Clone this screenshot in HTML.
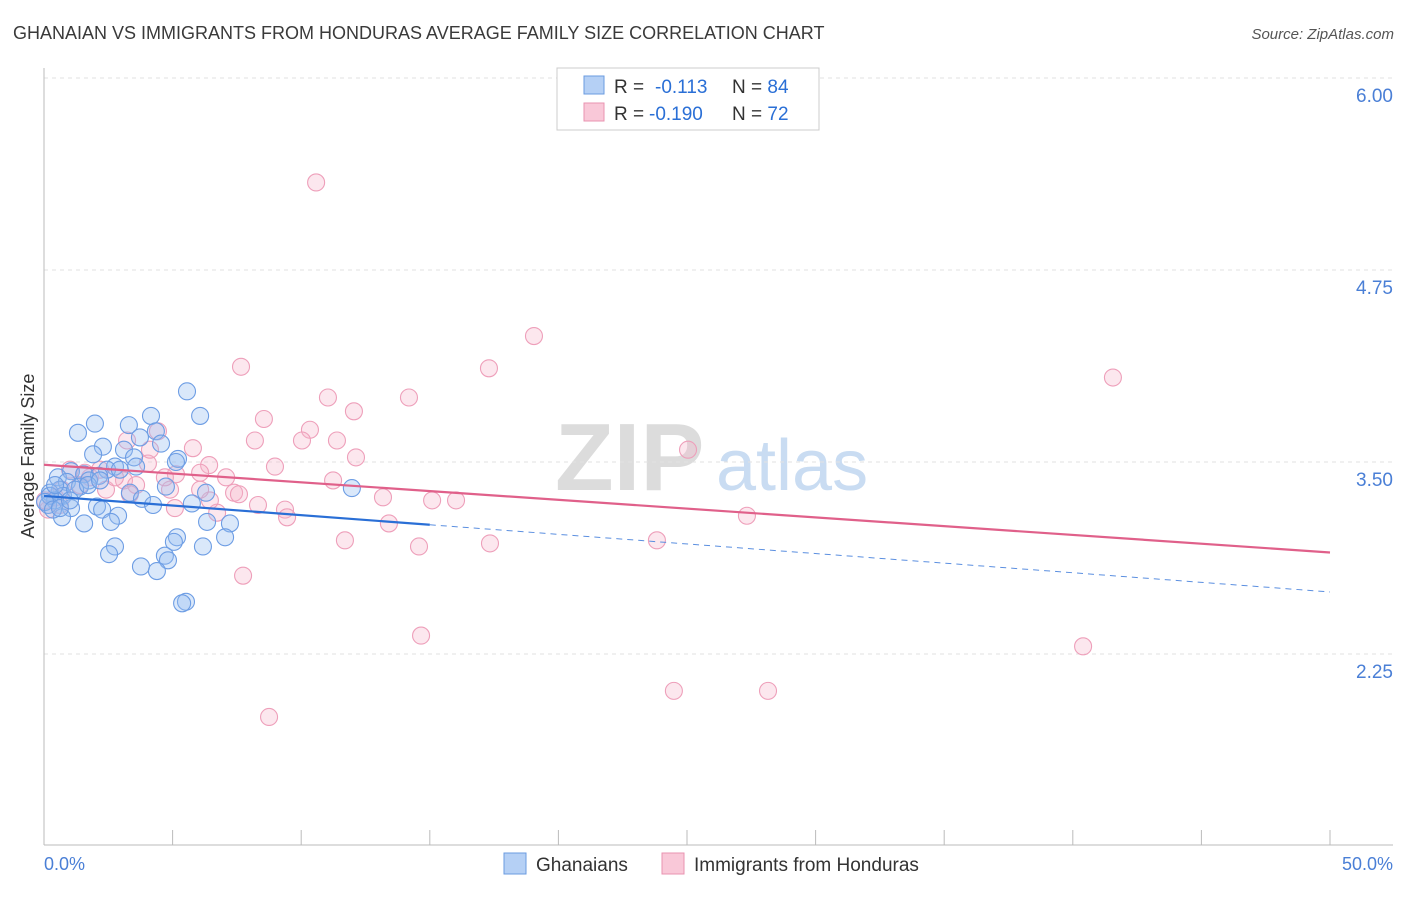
<!DOCTYPE html>
<html><head><meta charset="utf-8"><style>
body{margin:0;background:#fff;font-family:"Liberation Sans",sans-serif;}
svg text{font-family:"Liberation Sans",sans-serif;}
</style></head><body>
<svg id="chart" width="1406" height="892" xmlns="http://www.w3.org/2000/svg">
<text x="13" y="39" font-size="18" fill="#3a3a3a">GHANAIAN VS IMMIGRANTS FROM HONDURAS AVERAGE FAMILY SIZE CORRELATION CHART</text>
<text x="1394" y="39" font-size="15" fill="#555" font-style="italic" text-anchor="end">Source: ZipAtlas.com</text>
<g>
<text x="555" y="490" font-size="96" fill="#dcdcdc" font-family="Liberation Serif,serif" font-weight="bold">ZIP</text>
<text x="716" y="490" font-size="72" fill="#c9dcf2">atlas</text>
</g>
<g id="grid"></g>
<line x1="44" y1="68" x2="44" y2="845" stroke="#bbb"/>
<line x1="44" y1="845" x2="1393" y2="845" stroke="#bbb"/>
<g id="xticks"></g>
<g id="pts"></g>
<g id="lines"></g>
<text transform="translate(34,456) rotate(-90)" font-size="18" fill="#333" text-anchor="middle">Average Family Size</text>
<text x="44" y="870" font-size="18" fill="#4a7fd6">0.0%</text>
<text x="1393" y="870" font-size="18" fill="#4a7fd6" text-anchor="end">50.0%</text>
<g>
<rect x="557" y="68" width="262" height="62" fill="#fff" stroke="#ccc"/>
<rect x="584" y="76" width="20" height="18" fill="#b5d0f5" stroke="#6a9be0"/>
<rect x="584" y="103" width="20" height="18" fill="#f9c8d8" stroke="#e993b0"/>
<text x="614" y="93" font-size="19" fill="#333">R = <tspan x="655" fill="#2a6fd6">-0.113</tspan><tspan x="732">N = </tspan><tspan fill="#2a6fd6">84</tspan></text>
<text x="614" y="120" font-size="19" fill="#333">R = <tspan x="649" fill="#2a6fd6">-0.190</tspan><tspan x="732">N = </tspan><tspan fill="#2a6fd6">72</tspan></text>
</g>
<g>
<rect x="504" y="853" width="22" height="21" fill="#b5d0f5" stroke="#6a9be0"/>
<text x="536" y="871" font-size="19" fill="#333">Ghanaians</text>
</g>
<g>
<rect x="662" y="853" width="22" height="21" fill="#f9c8d8" stroke="#e993b0"/>
<text x="694" y="871" font-size="19" fill="#333">Immigrants from Honduras</text>
</g>
</svg>
<script>
const yTicks=[2.25,3.5,4.75,6.0];
const yTickLabels=["2.25","3.50","4.75","6.00"];
const xTicks=[5,10,15,20,25,30,35,40,45,50];
const blueX=[5.56,6.07,4.16,3.30,1.98,1.32,4.35,3.73,4.55,2.29,3.11,1.91,3.50,5.21,5.13,2.76,3.58,2.45,1.05,1.56,2.14,0.54,1.75,0.89,1.40,0.62,0.23,4.74,6.30,3.34,0.74,3.81,0.43,0.16,1.05,2.06,4.24,2.26,5.75,2.88,0.70,1.56,2.60,6.34,7.23,11.97,7.04,5.17,5.05,6.18,2.76,2.53,4.70,4.82,3.77,4.39,5.52,5.37,0.23,0.04,0.35,0.62,1.21,1.71,2.18,2.95,1.01,0.43];
const blueY=[3.96,3.80,3.80,3.74,3.75,3.69,3.70,3.66,3.62,3.60,3.58,3.55,3.53,3.52,3.50,3.47,3.47,3.45,3.44,3.42,3.41,3.40,3.38,3.37,3.34,3.32,3.30,3.34,3.30,3.30,3.28,3.26,3.25,3.22,3.20,3.21,3.22,3.19,3.23,3.15,3.14,3.10,3.11,3.11,3.10,3.33,3.01,3.01,2.98,2.95,2.95,2.90,2.89,2.86,2.82,2.79,2.59,2.58,3.28,3.24,3.19,3.20,3.32,3.35,3.38,3.45,3.25,3.35];
const pinkX=[10.58,19.05,17.30,7.66,41.56,11.04,14.19,12.05,8.55,10.34,8.20,10.03,11.39,25.04,5.79,3.23,4.43,12.13,4.04,6.42,8.98,5.13,6.07,7.08,11.24,1.01,1.79,3.11,3.58,2.41,4.90,7.39,7.58,8.32,13.18,15.09,16.02,9.37,9.45,27.33,6.73,5.09,13.41,11.70,14.58,17.34,23.83,7.74,14.66,40.40,24.49,28.15,8.75,0.16,0.43,0.70,1.40,3.34,2.76,4.12,6.45,6.07,2.18,0.62,0.04,1.59,4.70];
const pinkY=[5.32,4.32,4.11,4.12,4.05,3.92,3.92,3.83,3.78,3.71,3.64,3.64,3.64,3.58,3.59,3.64,3.70,3.53,3.49,3.48,3.47,3.42,3.43,3.40,3.38,3.45,3.40,3.38,3.35,3.32,3.32,3.30,3.29,3.22,3.27,3.25,3.25,3.19,3.14,3.15,3.17,3.20,3.10,2.99,2.95,2.97,2.99,2.76,2.37,2.30,2.01,2.01,1.84,3.19,3.27,3.32,3.35,3.29,3.40,3.58,3.25,3.32,3.45,3.22,3.25,3.43,3.40];
const blueTrend=[3.279,2.654];
const blueSolidEnd=15;
const pinkTrend=[3.482,2.911];

const NS="http://www.w3.org/2000/svg";
const sx=v=>44+v/50*1286;
const sy=v=>654-(v-2.25)/1.25*192;
function mk(tag,attrs,parent){const e=document.createElementNS(NS,tag);for(const k in attrs)e.setAttribute(k,attrs[k]);document.getElementById(parent).appendChild(e);return e;}
yTicks.forEach((t,i)=>{
  const l=mk('line',{x1:44,x2:1393,y1:sy(t),y2:sy(t),stroke:'#e2e2e2','stroke-dasharray':'4,4'},'grid');
  
  
  const tx=mk('text',{x:1393,y:sy(t)+24,'font-size':19,fill:'#4a7fd6','text-anchor':'end'},'grid');
  tx.textContent=yTickLabels[i];
  
  
});
xTicks.forEach(t=>{
  const l=mk('line',{x1:sx(t),x2:sx(t),y1:830,y2:845,stroke:'#bbb'},'xticks');
  
  
});
function pts(X,Y,fill,stroke,name){
  X.forEach((x,i)=>{
    const c=mk('circle',{cx:sx(x),cy:sy(Y[i]),r:8.5,fill:fill,stroke:stroke,'stroke-width':1.1},'pts');
    
    
  });
}
pts(pinkX,pinkY,'rgba(246,180,202,0.32)','#ee9fba','honduras-point');
pts(blueX,blueY,'rgba(150,190,240,0.35)','#6d9de4','ghanaian-point');
const bAt=x=>blueTrend[0]+(blueTrend[1]-blueTrend[0])*x/50;
let l1=mk('line',{x1:sx(0),y1:sy(bAt(0)),x2:sx(blueSolidEnd),y2:sy(bAt(blueSolidEnd)),stroke:'#2a6fd6','stroke-width':2.2},'lines');


let l2=mk('line',{x1:sx(blueSolidEnd),y1:sy(bAt(blueSolidEnd)),x2:sx(50),y2:sy(bAt(50)),stroke:'#5b8fe0','stroke-width':1,'stroke-dasharray':'6,5'},'lines');


let l3=mk('line',{x1:sx(0),y1:sy(pinkTrend[0]),x2:sx(50),y2:sy(pinkTrend[1]),stroke:'#e0608a','stroke-width':2.2},'lines');


</script>
</body></html>
